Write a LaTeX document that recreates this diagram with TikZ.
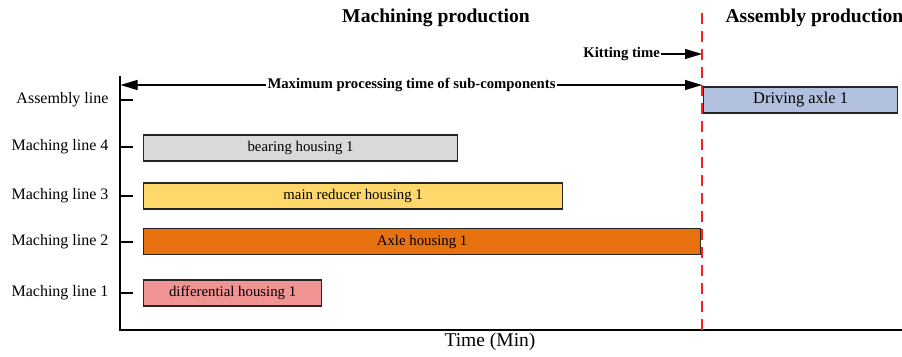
\documentclass[tikz,border=0pt]{standalone}
\usepackage{fontspec}
\setmainfont{Liberation Serif}
\usetikzlibrary{arrows.meta}

\definecolor{jobgray}{HTML}{D9D9D9}
\definecolor{jobyellow}{HTML}{FED86A}
\definecolor{joborange}{HTML}{E8710F}
\definecolor{jobpink}{HTML}{F09393}
\definecolor{jobblue}{HTML}{B0C0DE}
\definecolor{kitred}{HTML}{FF1E1E}

\begin{document}
\begin{tikzpicture}[x=1pt,y=-1pt,
    lanelbl/.style={anchor=east,font=\fontsize{16}{18}\selectfont},
    job/.style={draw=black!85,line width=1.2pt,anchor=west,minimum height=26pt,
      inner sep=0pt,font=\fontsize{14.8}{16}\selectfont},
    title/.style={font=\bfseries\fontsize{19.6}{22}\selectfont},
    note/.style={font=\bfseries\fontsize{14.7}{16}\selectfont,inner sep=1pt},
    span/.style={line width=1.2pt,-{Triangle[length=17pt,width=10pt]}}]
  \useasboundingbox (0,0) rectangle (902,356);

  % titles
  \node[title] (machttl) at (436,18) {Machining production};
  \node[title,anchor=west] (asmttl) at (722,18) {Assembly production};

  % axes
  \coordinate (ytop) at (120,76);
  \coordinate (orig) at (120,330);
  \coordinate (xend) at (902,330);
  \draw[line width=1.3pt] (ytop) -- (orig) -- (xend);
  \node[font=\fontsize{19.5}{22}\selectfont] (xlbl) at (490,342) {Time (Min)};

  % lanes
  \foreach \y/\n/\txt in {100/5/Assembly line,147/4/Maching line 4,196/3/Maching line 3,
                          242/2/Maching line 2,293/1/Maching line 1} {
    \draw[line width=1.2pt] (120,\y) -- (133,\y);
    \node[lanelbl] (lane\n) at (112,\y) {\txt};
  }

  % jobs
  \node[job,fill=jobgray,minimum width=314pt] (bearing) at (143,148) {bearing housing 1};
  \node[job,fill=jobyellow,minimum width=419pt] (reducer) at (143,196) {main reducer housing 1};
  \node[job,fill=joborange,minimum width=557pt] (axle) at (143,241.5) {Axle housing 1};
  \node[job,fill=jobpink,minimum width=178pt] (diff) at (143,293) {differential housing 1};
  \node[job,fill=jobblue,minimum width=194pt,font=\fontsize{16.4}{18}\selectfont] (driving) at (703,100) {Driving axle 1};

  % kitting boundary
  \coordinate (ktop) at (702,13);
  \coordinate (kbot) at (702,330);
  \draw[kitred,line width=1.4pt,dash pattern=on 11pt off 7pt] (ktop) -- (kbot);

  % spans
  \node[note] (maxlbl) at (411.5,85) {Maximum processing time of sub-components};
  \coordinate (maxL) at (120.5,85);
  \coordinate (maxR) at (702,85);
  \draw[span] (maxlbl) -- (maxL);
  \draw[span] (maxlbl) -- (maxR);

  \node[note,anchor=east] (kitlbl) at (661,54) {Kitting time};
  \coordinate (kitR) at (702,54);
  \draw[span] (kitlbl) -- (kitR);
\end{tikzpicture}
\end{document}
